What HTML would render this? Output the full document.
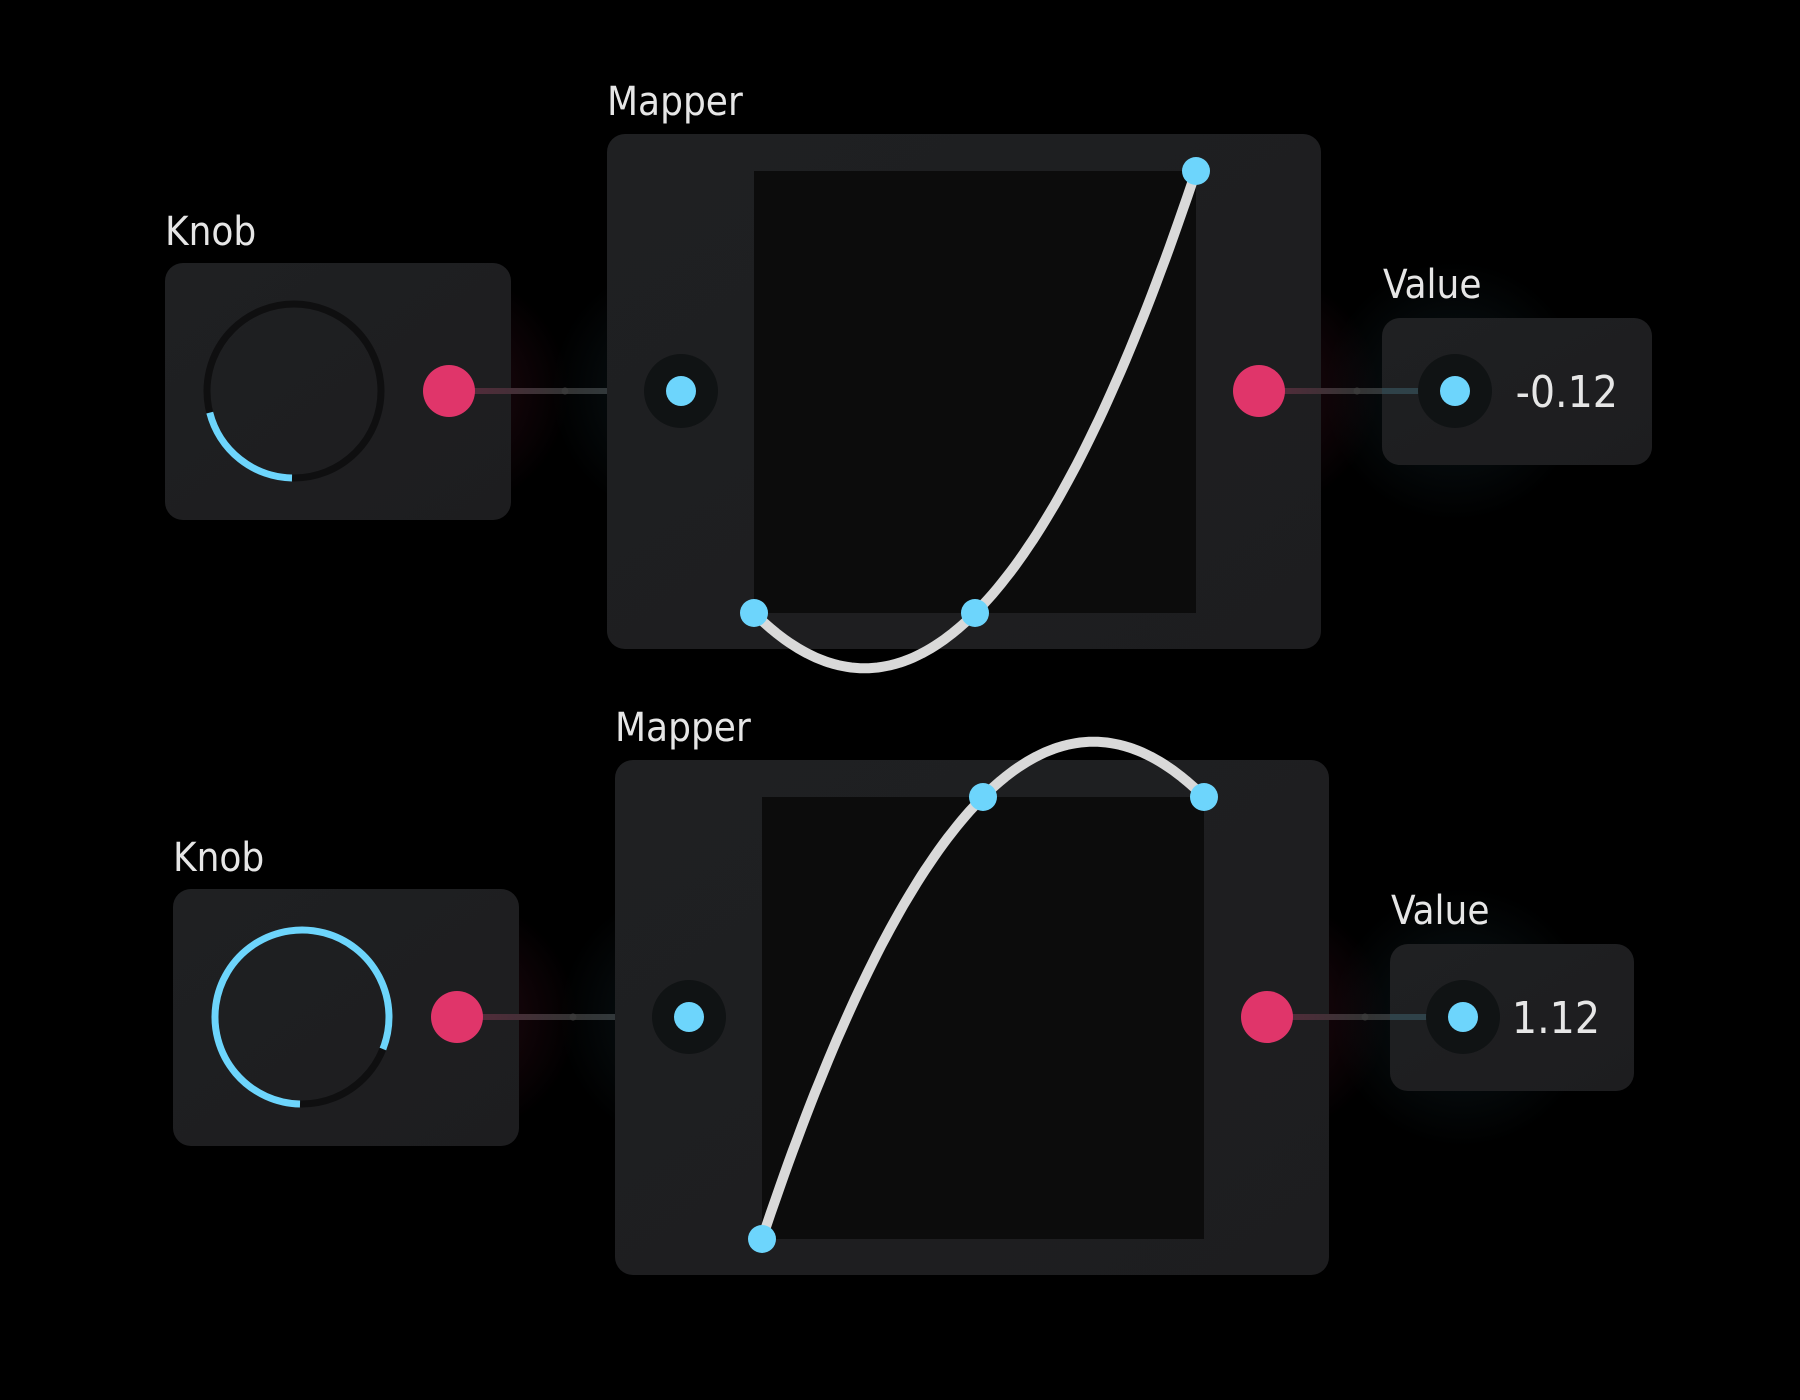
<!DOCTYPE html>
<html><head><meta charset="utf-8"><style>
html,body{margin:0;padding:0;background:#000;width:1800px;height:1400px;overflow:hidden}
svg{display:block}
text{font-family:"DejaVu Sans Condensed","Liberation Sans",sans-serif;fill:#e6e6e6}
</style></head><body>
<svg id="s" width="1800" height="1400" viewBox="0 0 1800 1400">
<defs>
<linearGradient id="box" x1="0" y1="0" x2="1" y2="1"><stop offset="0" stop-color="#1f2022"/><stop offset="1" stop-color="#1d1d1f"/></linearGradient>
<linearGradient id="wire" x1="0" x2="1"><stop offset="0" stop-color="#5a2a3c"/><stop offset="0.5" stop-color="#333"/><stop offset="1" stop-color="#2f4249"/></linearGradient>
<radialGradient id="glowR"><stop offset="0" stop-color="#e0356a" stop-opacity="0.16"/><stop offset="1" stop-color="#e0356a" stop-opacity="0"/></radialGradient>
<radialGradient id="glowB"><stop offset="0" stop-color="#6dd5fc" stop-opacity="0.1"/><stop offset="1" stop-color="#6dd5fc" stop-opacity="0"/></radialGradient>
</defs>
</svg>
<script>
// Data
const knobValues = [0.25, 0.75];
const knobArcFractions = [0.21, 0.81];
const curveXs = [[0, 0.5, 1], [0, 0.5, 1]];
const curveYs = [[0, 0, 1], [0, 1, 1]];
const valueLabels = ["-0.12", "1.12"];

const NS = "http://www.w3.org/2000/svg";
const svg = document.getElementById('s');
function mk(tag, attrs, parent) {
  const e = document.createElementNS(NS, tag);
  for (const k in attrs) e.setAttribute(k, attrs[k]);
  (parent || svg).appendChild(e);
  return e;
}
const layouts = [
  {dx: 0, dy: 0, vw: 270},
  {dx: 8, dy: 626, vw: 244}
];
layouts.forEach((L, i) => {
  const g = mk('g', {transform: `translate(${L.dx},${L.dy})`});
  
  
  const cy = 391;
  [[449, 681], [1259, 1454]].forEach(([a, b], j) => {
    mk('circle', {cx: a, cy: cy, r: 120, fill: 'url(#glowR)'}, g);
    mk('circle', {cx: b, cy: cy, r: 130, fill: 'url(#glowB)'}, g);
  });
  const kb = mk('rect', {x: 165, y: 263, width: 346, height: 257, rx: 18, fill: 'url(#box)'}, g);
  
  
  const kt = mk('text', {x: 165, y: 245, 'font-size': 40}, g);
  kt.textContent = 'Knob';
  
  
  const kcx = 294, kcy = cy, kr = 87;
  const track = mk('circle', {cx: kcx, cy: kcy, r: kr, fill: 'none', stroke: '#0f0f10', 'stroke-width': 7}, g);
  
  
  const f = knobArcFractions[i];
  const a0 = Math.PI / 2, a1 = Math.PI / 2 + f * 2 * Math.PI;
  const p = (a) => [kcx + kr * Math.cos(a), kcy + kr * Math.sin(a)];
  const [x0, y0] = p(a0), [x1, y1] = p(a1);
  const arc = mk('path', {d: `M${x0-2},${y0} A${kr},${kr} 0 ${f > 0.5 ? 1 : 0} 1 ${x1},${y1}`, fill: 'none', stroke: '#6dd5fc', 'stroke-width': 7}, g);
  
  
  mk('rect', {x: 449, y: cy - 3, width: 232, height: 6, fill: 'url(#wire)'}, g);
  mk('circle', {cx: 565, cy: cy, r: 3.5, fill: '#3a3a3a'}, g);
  const ko = mk('circle', {cx: 449, cy: cy, r: 26, fill: '#e0356a'}, g);
  
  
  const mt = mk('text', {x: 607, y: 115, 'font-size': 40}, g);
  mt.textContent = 'Mapper';
  
  
  const mb = mk('rect', {x: 607, y: 134, width: 714, height: 515, rx: 18, fill: 'url(#box)'}, g);
  
  
  const px = 754, py = 171, pw = 442, ph = 442;
  const pl = mk('rect', {x: px, y: py, width: pw, height: ph, fill: '#0c0c0c'}, g);
  
  
  const X = v => px + v * pw, Y = v => py + ph - v * ph;
  const xs = curveXs[i], ys = curveYs[i];
  const interp = t => {
    let s = 0;
    for (let a = 0; a < xs.length; a++) {
      let l = 1;
      for (let b = 0; b < xs.length; b++) if (b !== a) l *= (t - xs[b]) / (xs[a] - xs[b]);
      s += ys[a] * l;
    }
    return s;
  };
  let d = '';
  for (let k = 0; k <= 100; k++) {
    const t = xs[0] + (xs[xs.length - 1] - xs[0]) * k / 100;
    d += (k ? 'L' : 'M') + X(t).toFixed(1) + ',' + Y(interp(t)).toFixed(1);
  }
  const curve = mk('path', {d: d, fill: 'none', stroke: '#d9d9d9', 'stroke-width': 10, 'stroke-linecap': 'round', 'stroke-linejoin': 'round'}, g);
  
  
  xs.forEach((xv, k) => {
    const c = mk('circle', {cx: X(xv), cy: Y(ys[k]), r: 14, fill: '#6dd5fc'}, g);
    
    
  });
  const mi = mk('circle', {cx: 681, cy: cy, r: 37, fill: '#101314'}, g);
  
  
  mk('circle', {cx: 681, cy: cy, r: 15, fill: '#6dd5fc'}, g);
  mk('rect', {x: 1259, y: cy - 3, width: 195, height: 6, fill: 'url(#wire)'}, g);
  mk('circle', {cx: 1357, cy: cy, r: 3.5, fill: '#3a3a3a'}, g);
  const mo = mk('circle', {cx: 1259, cy: cy, r: 26, fill: '#e0356a'}, g);
  
  
  const vt = mk('text', {x: 1383, y: 298, 'font-size': 40}, g);
  vt.textContent = 'Value';
  
  
  const vb = mk('rect', {x: 1382, y: 318, width: L.vw, height: 147, rx: 18, fill: 'url(#box)'}, g);
  
  
  mk('rect', {x: 1382, y: cy - 3, width: 72, height: 6, fill: '#2f4249'}, g);
  const vi = mk('circle', {cx: 1455, cy: cy, r: 37, fill: '#101314'}, g);
  
  
  mk('circle', {cx: 1455, cy: cy, r: 15, fill: '#6dd5fc'}, g);
  const vv = mk('text', {x: 1382 + L.vw - 34, y: cy + 16, 'font-size': 44, 'text-anchor': 'end'}, g);
  vv.textContent = valueLabels[i];
  
  
});
</script>
</body></html>
